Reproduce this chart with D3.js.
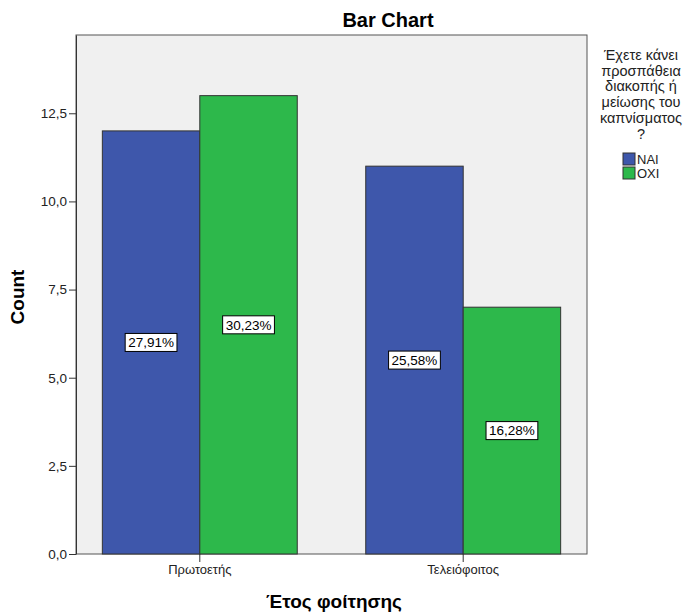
<!DOCTYPE html>
<html><head><meta charset="utf-8">
<script src="https://cdn.jsdelivr.net/npm/d3@7"></script>
<style>body{margin:0;background:#fff;font-family:"Liberation Sans",Arial,sans-serif;}</style>
</head><body>
<script>
const categories = ["Πρωτοετής", "Τελειόφοιτος"];
const seriesNames = ["ΝΑΙ", "ΟΧΙ"];
const naiValues = [12, 11];
const oxiValues = [13, 7];
const naiLabels = ["27,91%", "25,58%"];
const oxiLabels = ["30,23%", "16,28%"];
const yTicks = [0, 2.5, 5, 7.5, 10, 12.5];
const colors = ["#3e57ab", "#2db84b"];

const W = 691, H = 615;
const FF = "Liberation Sans, Arial, sans-serif";
const svg = d3.select("body").append("svg").attr("width", W).attr("height", H)
  .attr("font-family", FF);
const L = 76, R = 587, T = 35, B = 554;

svg.append("rect").attr("x", L).attr("y", T).attr("width", R - L).attr("height", B - T)
  .attr("fill", "#f0f0f0").attr("stroke", "#555").attr("stroke-width", 1);

const x = d3.scaleBand().domain(categories).range([L, R]).paddingInner(0.26).paddingOuter(0.1);
const xs = d3.scaleBand().domain(seriesNames).range([0, x.bandwidth()]);
const y = d3.scaleLinear().domain([0, 14.72]).range([B, T]);

const data = [];
categories.forEach((c, i) => {
  data.push({c, s: seriesNames[0], v: naiValues[i], lab: naiLabels[i], col: colors[0]});
  data.push({c, s: seriesNames[1], v: oxiValues[i], lab: oxiLabels[i], col: colors[1]});
});

svg.selectAll("rect.bar").data(data).enter().append("rect").attr("class", "bar")
  .attr("x", d => x(d.c) + xs(d.s)).attr("width", xs.bandwidth())
  .attr("y", d => y(d.v)).attr("height", d => B - y(d.v))
  .attr("fill", d => d.col).attr("stroke", "#333").attr("stroke-width", 1);

const lg = svg.selectAll("g.lab").data(data).enter().append("g").attr("class", "lab")
  .attr("transform", d => `translate(${x(d.c) + xs(d.s) + xs.bandwidth() / 2},${y(d.v / 2)})`);
const lbox = lg.append("rect").attr("fill", "#fff").attr("stroke", "#000").attr("stroke-width", 1);
const ltxt = lg.append("text").attr("text-anchor", "middle").attr("dy", "0.36em")
  .attr("font-size", 13.5).attr("fill", "#000").text(d => d.lab);
ltxt.each(function() {
  const w = this.getComputedTextLength();
  d3.select(this.parentNode).select("rect")
    .attr("x", -w / 2 - 3).attr("width", w + 6).attr("y", -9).attr("height", 18);
});

// Y axis
const yAxis = d3.axisLeft(y).tickValues(yTicks)
  .tickFormat(d => d3.format(".1f")(d).replace(".", ","))
  .tickSize(7).tickSizeOuter(0).tickPadding(2);
const gy = svg.append("g").attr("transform", `translate(${L},0)`).call(yAxis);
gy.select(".domain").attr("stroke", "#333");
gy.selectAll(".tick line").attr("stroke", "#333");
gy.selectAll(".tick text").attr("font-size", 13.5).attr("fill", "#222").attr("font-family", FF);

// X axis
const xAxis = d3.axisBottom(x).tickSize(8).tickSizeOuter(0).tickPadding(3);
const gx = svg.append("g").attr("transform", `translate(0,${B})`).call(xAxis);
gx.select(".domain").remove();
gx.selectAll(".tick line").attr("stroke", "#333");
gx.selectAll(".tick text").attr("font-size", 13).attr("fill", "#222").attr("font-family", FF);

// Titles
svg.append("text").attr("x", 388).attr("y", 27).attr("text-anchor", "middle")
  .attr("font-size", 20).attr("font-weight", "bold").text("Bar Chart");
svg.append("text").attr("transform", `translate(24,297) rotate(-90)`).attr("text-anchor", "middle")
  .attr("font-size", 19).attr("font-weight", "bold").text("Count");
svg.append("text").attr("x", 334).attr("y", 608).attr("text-anchor", "middle")
  .attr("font-size", 19).attr("font-weight", "bold").text("Έτος φοίτησης");

// Legend
const legTitle = ["Έχετε κάνει", "προσπάθεια", "διακοπής ή", "μείωσης του", "καπνίσματος", "?"];
svg.append("g").selectAll("text").data(legTitle).enter().append("text")
  .attr("x", 641).attr("y", (d, i) => 60 + i * 15.7).attr("text-anchor", "middle")
  .attr("font-size", 14.5).attr("fill", "#222").text(d => d);
const li = svg.append("g").selectAll("g").data(seriesNames).enter().append("g")
  .attr("transform", (d, i) => `translate(623,${153 + i * 14})`);
li.append("rect").attr("width", 12).attr("height", 12).attr("fill", (d, i) => colors[i]).attr("stroke", "#333");
li.append("text").attr("x", 14).attr("y", 11).attr("font-size", 13).attr("fill", "#222").text(d => d);
</script>
</body></html>
